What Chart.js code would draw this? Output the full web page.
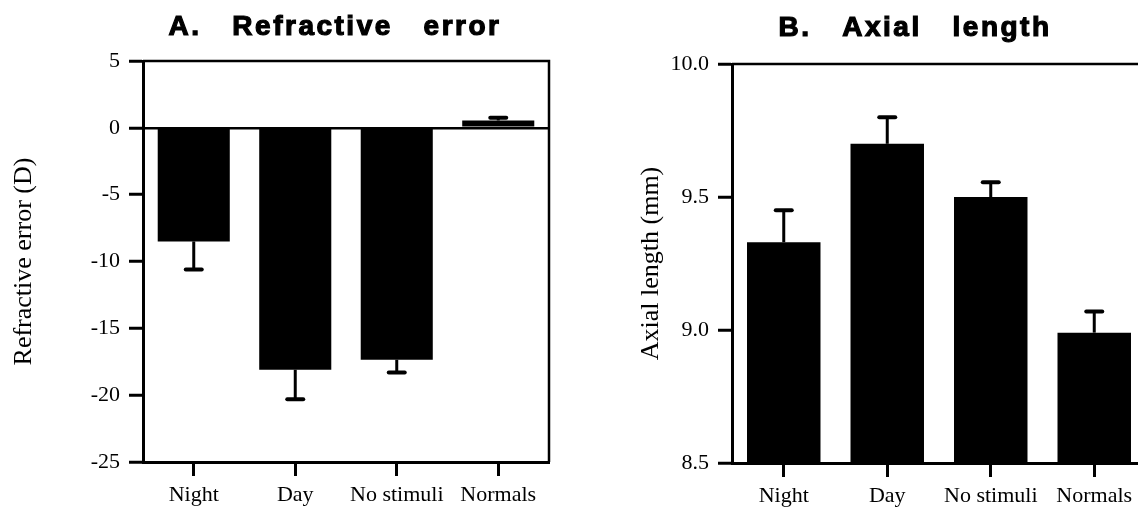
<!DOCTYPE html>
<html>
<head>
<meta charset="utf-8">
<script src="https://cdn.jsdelivr.net/npm/chart.js@4"></script>
<style>
  html, body { margin: 0; padding: 0; background: #fff; overflow: hidden; }
  body { width: 1138px; height: 509px; position: relative; }
  canvas { position: absolute; top: 0; }
  #refraction { left: 0; }
  #axial { left: 600px; }
</style>
</head>
<body>
<canvas id="refraction" width="570" height="509"></canvas>
<canvas id="axial" width="560" height="509"></canvas>
<script>
// groups
const categories = ['Night', 'Day', 'No stimuli', 'Normals'];

// A: refractive error, mean and SEM (D)
const refractiveMeans = [-8.5, -18.1, -17.35, 0.55];
const refractiveErrors = [2.1, 2.2, 0.95, 0.2];
const refractiveTicks = [5, 0, -5, -10, -15, -20, -25];

// B: axial length, mean and SEM (mm)
const axialMeans = [9.33, 9.70, 9.50, 8.99];
const axialErrors = [0.12, 0.10, 0.055, 0.08];
const axialTicks = [10.0, 9.5, 9.0, 8.5];

const serif = '"Liberation Serif", "Times New Roman", serif';

// whiskers drawn away from zero, with a flat cap
const errorBars = {
    id: 'errorBars',
    afterDatasetsDraw(chart) {
        const ctx = chart.ctx;
        const ds = chart.data.datasets[0];
        const yScale = chart.scales.y;
        ctx.save();
        ctx.strokeStyle = '#000';
        chart.getDatasetMeta(0).data.forEach((bar, i) => {
            let v = ds.data[i];
            let end = v < 0 ? v - ds.errors[i] : v + ds.errors[i];
            let yEnd = yScale.getPixelForValue(end);
            ctx.lineWidth = 3;
            ctx.lineCap = 'butt';
            ctx.beginPath();
            ctx.moveTo(bar.x, bar.y);
            ctx.lineTo(bar.x, yEnd);
            ctx.stroke();
            ctx.lineWidth = 4;
            ctx.lineCap = 'round';
            ctx.beginPath();
            ctx.moveTo(bar.x - 8, yEnd);
            ctx.lineTo(bar.x + 8, yEnd);
            ctx.stroke();
        });
        ctx.restore();
    }
};

// top and right edges of the plot box
const frame = {
    id: 'frame',
    afterDraw(chart) {
        const ctx = chart.ctx;
        const a = chart.chartArea;
        ctx.save();
        ctx.strokeStyle = '#000';
        ctx.lineWidth = 2.5;
        ctx.beginPath();
        ctx.moveTo(a.left, a.top);
        ctx.lineTo(a.right, a.top);
        ctx.lineTo(a.right, a.bottom);
        ctx.stroke();
        ctx.restore();
    }
};

// heavy spaced heading above each panel
const panelTitle = {
    id: 'panelTitle',
    afterDraw(chart, args, opts) {
        const ctx = chart.ctx;
        ctx.save();
        ctx.font = 'bold 28px "Liberation Sans", Arial, sans-serif';
        ctx.letterSpacing = '2.5px';
        ctx.fillStyle = '#000';
        ctx.strokeStyle = '#000';
        ctx.lineWidth = 1.2;
        ctx.textAlign = 'center';
        ctx.textBaseline = 'alphabetic';
        ctx.fillText(opts.text, opts.x, opts.y);
        ctx.strokeText(opts.text, opts.x, opts.y);
        ctx.restore();
    }
};

function makeChart(id, means, errors, tickValues, opts) {
    const ctx = document.getElementById(id).getContext('2d');
    return new Chart(ctx, {
        type: 'bar',
        data: {
            labels: categories,
            datasets: [{
                data: means,
                errors: errors,
                backgroundColor: '#000',
                borderWidth: 0,
                barPercentage: 0.71,
                categoryPercentage: 1.0
            }]
        },
        options: {
            responsive: false,
            animation: false,
            devicePixelRatio: 1,
            layout: { padding: { top: opts.top, right: opts.right, left: 0, bottom: 0 } },
            plugins: {
                legend: { display: false },
                tooltip: { enabled: false },
                panelTitle: opts.heading
            },
            scales: {
                x: {
                    grid: {
                        drawOnChartArea: false,
                        offset: false,
                        tickLength: 14,
                        tickWidth: 3,
                        tickColor: '#000'
                    },
                    border: { color: '#000', width: 3 },
                    ticks: {
                        color: '#000',
                        padding: 6,
                        maxRotation: 0,
                        autoSkip: false,
                        font: { family: serif, size: 22 }
                    },
                    afterFit(axis) { axis.height = opts.xHeight; }
                },
                y: {
                    min: opts.min,
                    max: opts.max,
                    grid: {
                        drawOnChartArea: opts.zeroLine,
                        color: c => (opts.zeroLine && c.tick && c.tick.value === 0) ? '#000' : 'rgba(0,0,0,0)',
                        lineWidth: 2.5,
                        tickLength: 14,
                        tickWidth: 3,
                        tickColor: '#000'
                    },
                    border: { color: '#000', width: 3 },
                    ticks: {
                        color: '#000',
                        padding: 9,
                        font: { family: serif, size: 22 },
                        callback: opts.format
                    },
                    afterBuildTicks(axis) {
                        axis.ticks = tickValues.map(v => ({ value: v }));
                    },
                    afterFit(axis) { axis.width = opts.yWidth; },
                    title: {
                        display: true,
                        text: opts.yTitle,
                        color: '#000',
                        padding: { top: opts.titlePad, bottom: 0 },
                        font: { family: serif, size: 26 }
                    }
                }
            }
        },
        plugins: [frame, errorBars, panelTitle]
    });
}

makeChart('refraction', refractiveMeans, refractiveErrors, refractiveTicks, {
    top: 61, right: 21, xHeight: 47, yWidth: 143,
    min: -25, max: 5, zeroLine: true,
    format: v => String(v),
    yTitle: 'Refractive error (D)', titlePad: 9,
    heading: { text: 'A.   Refractive   error', x: 335, y: 35 }
});

makeChart('axial', axialMeans, axialErrors, axialTicks, {
    top: 64, right: 14, xHeight: 46, yWidth: 132,
    min: 8.5, max: 10, zeroLine: false,
    format: v => v.toFixed(1),
    yTitle: 'Axial length (mm)', titlePad: 36,
    heading: { text: 'B.   Axial   length', x: 315, y: 36 }
});
</script>
</body>
</html>
